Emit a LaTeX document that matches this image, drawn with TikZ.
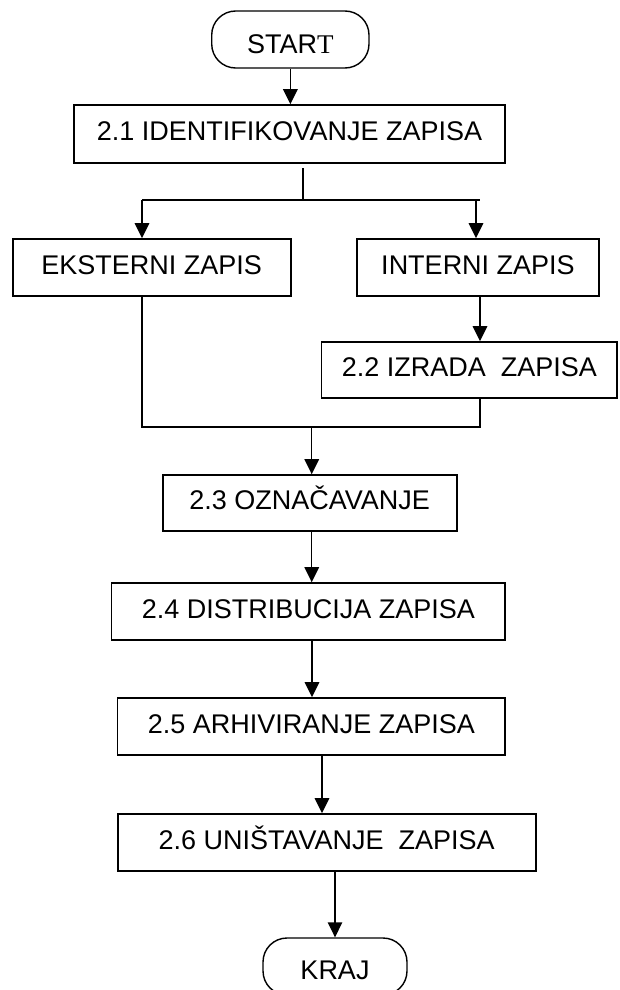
\documentclass[tikz,border=0pt]{standalone}
\usepackage{fontspec}
\setmainfont{Liberation Sans}
\newfontfamily\tnr{Liberation Serif}
\usetikzlibrary{arrows.meta}
\begin{document}
\begin{tikzpicture}[x=1pt,y=-1pt,
  box/.style={draw, line width=1.6pt, inner sep=0pt, text height=19pt, text depth=5.5pt,
              font=\fontsize{27}{30}\selectfont},
  term/.style={box, line width=1.4pt, rounded corners=24pt, text depth=0pt},
  ln/.style={line width=1.5pt},
  arr/.style={ln, -{Triangle[length=15pt,width=14.5pt]}}]
\useasboundingbox (0,0) rectangle (619,990);
\clip (0,0) rectangle (619,990);

% nodes
\node[term, text height=27.4pt, minimum width=157.3pt, minimum height=57pt] (start) at (290.35,39.5) {STAR{\tnr T}};
\node[box, minimum width=431pt, minimum height=58pt] (n21) at (289.5,134) {2.1 IDENTIFIKOVANJE ZAPISA};
\node[box, minimum width=278pt, minimum height=57pt] (ext) at (151.7,267.5) {EKSTERNI ZAPIS};
\node[box, minimum width=242pt, minimum height=57pt] (int) at (478,267.5) {INTERNI ZAPIS};
\node[box, minimum width=295.3pt, minimum height=56pt] (n22) at (469.3,370) {2.2 IZRADA\ \ ZAPISA};
\node[box, minimum width=294pt, minimum height=56pt] (n23) at (309.7,503) {2.3 OZNAČAVANJE};
\node[box, minimum width=393.3pt, minimum height=57pt] (n24) at (308.3,611.5) {2.4 DISTRIBUCIJA ZAPISA};
\node[box, minimum width=387.3pt, minimum height=57pt] (n25) at (311.3,726.5) {2.5 ARHIVIRANJE ZAPISA};
\node[box, minimum width=418pt, minimum height=57pt] (n26) at (326.7,842.5) {2.6 UNIŠTAVANJE\ \ ZAPISA};
\node[term, text height=25.4pt, minimum width=144pt, minimum height=57pt] (kraj) at (335,966.5) {KRAJ};

% helper coordinates
\coordinate (s1) at (303,168);
\coordinate (s2) at (303,200);
\coordinate (bl) at (142,200);
\coordinate (br) at (480,200);
\coordinate (br2) at (476,200);
\coordinate (j) at (311.7,427);
\coordinate (x4) at (312,0);
\coordinate (x5) at (322,0);
\coordinate (x6) at (335,0);

% connectors
\draw[arr] (start.south) -- (start.south |- n21.north);
\draw[ln] (s1) -- (s2);
\draw[ln] (bl) -- (br);
\draw[arr] (bl) -- (bl |- ext.north);
\draw[arr] (br2) -- (br2 |- int.north);
\draw[arr] (int.south -| br) -- (n22.north -| br);
\draw[ln] (ext.south -| bl) -- (bl |- j) -- (br |- j) -- (n22.south -| br);
\draw[arr] (j) -- (n23.north -| j);
\draw[arr] (n23.south -| j) -- (n24.north -| j);
\draw[arr] (n24.south -| x4) -- (n25.north -| x4);
\draw[arr] (n25.south -| x5) -- (n26.north -| x5);
\draw[arr] (n26.south -| x6) -- (kraj.north -| x6);
\end{tikzpicture}
\end{document}
